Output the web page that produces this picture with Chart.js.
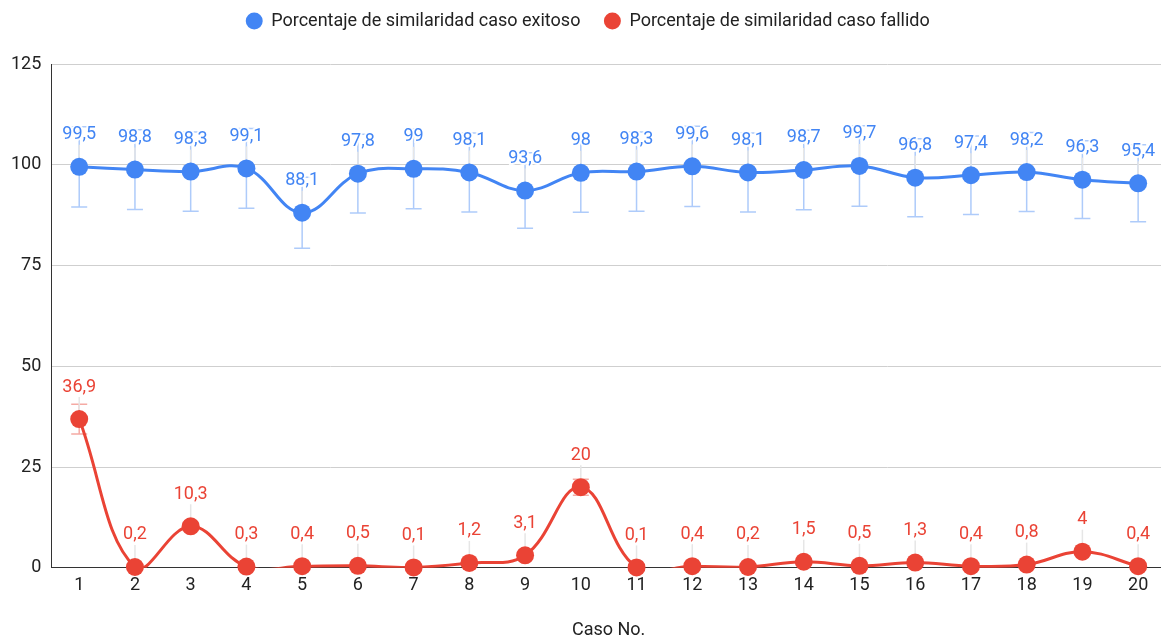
<!DOCTYPE html>
<html>
<head>
<meta charset="utf-8">
<script src="https://cdn.jsdelivr.net/npm/chart.js@4"></script>
<style>
  html, body { margin: 0; padding: 0; background: #fff; overflow: hidden; }
  #wrap { width: 1175px; height: 638px; }
</style>
</head>
<body>
<div id="wrap"><canvas id="similaridadChart"></canvas></div>
<script>
const casos = ['1', '2', '3', '4', '5', '6', '7', '8', '9', '10', '11', '12', '13', '14', '15', '16', '17', '18', '19', '20'];
const exitoso = [99.5, 98.8, 98.3, 99.1, 88.1, 97.8, 99, 98.1, 93.6, 98, 98.3, 99.6, 98.1, 98.7, 99.7, 96.8, 97.4, 98.2, 96.3, 95.4];
const fallido = [36.9, 0.2, 10.3, 0.3, 0.4, 0.5, 0.1, 1.2, 3.1, 20, 0.1, 0.4, 0.2, 1.5, 0.5, 1.3, 0.4, 0.8, 4, 0.4];
const yTicks = [0, 25, 50, 75, 100, 125];
const errorPct = 10; // error bars: percent of value

const blue = '#4285F4';
const red = '#EA4335';
const blueLight = '#aecbfa';
const redLight = '#f5aaa4';
const fontSize = 18;

// extra room under the legend
const legendMargin = {
  id: 'legendMargin',
  beforeInit(chart) {
    const fit = chart.legend.fit;
    chart.legend.fit = function () {
      fit.bind(chart.legend)();
      this.height += 24;
    };
  }
};

// error bars under the lines, value labels on top
const errorBarsAndLabels = {
  id: 'errorBarsAndLabels',
  beforeDatasetsDraw(chart) {
    const ctx = chart.ctx;
    const y = chart.scales.y;
    chart.data.datasets.forEach((ds, i) => {
      if (!ds.isPoints) return;
      const meta = chart.getDatasetMeta(i);
      ctx.save();
      ctx.strokeStyle = ds.errorColor;
      ctx.lineWidth = 1.5;
      meta.data.forEach((pt, j) => {
        const v = ds.data[j];
        const top = y.getPixelForValue(v * (1 + errorPct / 100));
        const bot = y.getPixelForValue(v * (1 - errorPct / 100));
        ctx.beginPath();
        ctx.moveTo(pt.x, top); ctx.lineTo(pt.x, bot);
        ctx.moveTo(pt.x - 8, top); ctx.lineTo(pt.x + 8, top);
        ctx.moveTo(pt.x - 8, bot); ctx.lineTo(pt.x + 8, bot);
        ctx.stroke();
        // faint leader from label to point
        ctx.save();
        ctx.strokeStyle = '#e6e6e6';
        ctx.beginPath();
        ctx.moveTo(pt.x, pt.y - 22); ctx.lineTo(pt.x, pt.y - 9);
        ctx.stroke();
        ctx.restore();
      });
      ctx.restore();
    });
  },
  afterDatasetsDraw(chart) {
    const ctx = chart.ctx;
    chart.data.datasets.forEach((ds, i) => {
      if (!ds.isPoints) return;
      const meta = chart.getDatasetMeta(i);
      ctx.save();
      ctx.font = fontSize + 'px Roboto';
      ctx.textAlign = 'center';
      ctx.textBaseline = 'middle';
      meta.data.forEach((pt, j) => {
        const txt = String(ds.data[j]).replace('.', ',');
        ctx.lineWidth = 4;
        ctx.strokeStyle = 'rgba(255,255,255,0.9)';
        ctx.strokeText(txt, pt.x, pt.y - 32);
        ctx.fillStyle = ds.borderColor;
        ctx.fillText(txt, pt.x, pt.y - 32);
      });
      ctx.restore();
    });
  }
};

const ctx = document.getElementById('similaridadChart').getContext('2d');
const similaridadChart = new Chart(ctx, {
  type: 'line',
  data: {
    labels: casos,
    datasets: [
      {
        label: 'Porcentaje de similaridad caso fallido',
        data: fallido,
        isLine: true,
        borderColor: red,
        borderWidth: 3,
        pointRadius: 0,
        tension: 0.4,
        order: 3
      },
      {
        label: 'Porcentaje de similaridad caso exitoso',
        data: exitoso,
        isLine: true,
        borderColor: blue,
        borderWidth: 3,
        pointRadius: 0,
        tension: 0.4,
        order: 2
      },
      {
        label: 'Porcentaje de similaridad caso exitoso',
        data: exitoso,
        isPoints: true,
        errorColor: blueLight,
        showLine: false,
        borderColor: blue,
        backgroundColor: blue,
        pointRadius: 9,
        pointBorderWidth: 0,
        pointStyle: 'circle',
        clip: false,
        order: 0
      },
      {
        label: 'Porcentaje de similaridad caso fallido',
        data: fallido,
        isPoints: true,
        errorColor: redLight,
        showLine: false,
        borderColor: red,
        backgroundColor: red,
        pointRadius: 9,
        pointBorderWidth: 0,
        pointStyle: 'circle',
        clip: false,
        order: 1
      }
    ]
  },
  options: {
    responsive: true,
    maintainAspectRatio: false,
    animation: false,
    layout: { padding: { left: 1, right: 0, top: -12, bottom: -3 } },
    elements: { line: { capBezierPoints: false } },
    plugins: {
      legend: {
        display: true,
        position: 'top',
        labels: {
          usePointStyle: true,
          boxHeight: 12,
          boxWidth: 16,
          padding: 24,
          color: '#222',
          font: { family: 'Roboto', size: fontSize },
          filter: (item, data) => data.datasets[item.datasetIndex].isPoints,
          sort: (a, b) => a.datasetIndex - b.datasetIndex
        }
      },
      tooltip: { enabled: false }
    },
    scales: {
      x: {
        offset: true,
        grid: { display: false, drawTicks: false },
        border: { display: true, color: '#333', width: 1 },
        ticks: { color: '#222', padding: 7, font: { family: 'Roboto', size: fontSize } },
        title: {
          display: true,
          text: 'Caso No.',
          color: '#222',
          font: { family: 'Roboto', size: fontSize },
          padding: { top: 16, bottom: 0 }
        }
      },
      y: {
        min: yTicks[0],
        max: yTicks[yTicks.length - 1],
        afterBuildTicks: (axis) => { axis.ticks = yTicks.map(v => ({ value: v })); },
        grid: { color: '#cfcfcf', drawTicks: false },
        border: { display: true, color: '#333', width: 1 },
        ticks: { color: '#222', padding: 10, font: { family: 'Roboto', size: fontSize } }
      }
    }
  },
  plugins: [legendMargin, errorBarsAndLabels]
});
</script>
</body>
</html>
